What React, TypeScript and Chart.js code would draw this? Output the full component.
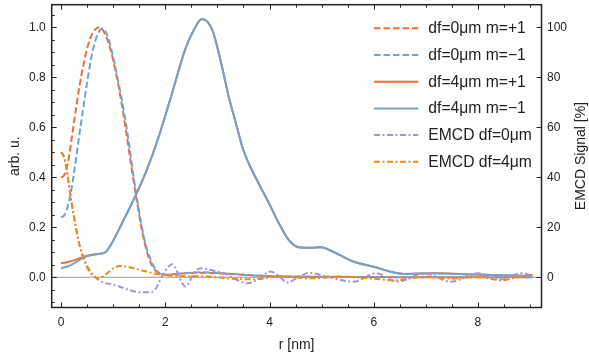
import { useEffect, useRef } from "react";
import { Chart, registerables } from "chart.js";

Chart.register(...registerables);

// ---------- data ----------
const R_DF0_P = [0, 0.05, 0.1, 0.15, 0.2, 0.27, 0.35, 0.45, 0.55, 0.65, 0.74, 0.85, 0.95, 1.05, 1.15, 1.25, 1.35, 1.45, 1.55, 1.65, 1.75, 1.85, 2.0, 2.3, 2.7, 3.1, 3.5, 4.0, 5.0, 6.0, 7.0, 8.0, 9.05];
const V_DF0_P = [0.40, 0.405, 0.43, 0.48, 0.55, 0.65, 0.76, 0.87, 0.95, 0.99, 1.0, 0.97, 0.91, 0.82, 0.71, 0.58, 0.44, 0.31, 0.19, 0.10, 0.045, 0.02, 0.01, 0.015, 0.018, 0.015, 0.01, 0.005, 0.002, 0.001, 0.0, 0.0, 0.0];

const R_DF0_M = [0, 0.05, 0.1, 0.17, 0.25, 0.33, 0.4, 0.5, 0.6, 0.7, 0.79, 0.9, 1.0, 1.1, 1.2, 1.3, 1.4, 1.5, 1.6, 1.7, 1.8, 1.9, 2.0, 2.3, 2.7, 3.1, 3.5, 4.0, 5.0, 6.0, 7.0, 8.0, 9.05];
const V_DF0_M = [0.24, 0.245, 0.265, 0.32, 0.42, 0.54, 0.64, 0.78, 0.90, 0.97, 0.995, 0.96, 0.88, 0.78, 0.67, 0.54, 0.39, 0.26, 0.15, 0.08, 0.035, 0.015, 0.01, 0.015, 0.02, 0.016, 0.01, 0.004, 0.002, 0.001, 0.0, 0.0, 0.0];

const R_DF4 = [0, 0.15, 0.3, 0.45, 0.6, 0.75, 0.85, 0.97, 1.17, 1.36, 1.62, 1.87, 2.13, 2.38, 2.55, 2.7, 2.9, 3.09, 3.22, 3.35, 3.48, 3.6, 3.79, 3.99, 4.18, 4.37, 4.56, 4.8, 4.98, 5.24, 5.62, 6.0, 6.33, 6.58, 7.16, 7.93, 9.02];
const V_DF4_P = [0.056, 0.062, 0.072, 0.083, 0.09, 0.094, 0.10, 0.135, 0.216, 0.296, 0.416, 0.56, 0.736, 0.91, 0.99, 1.033, 0.99, 0.84, 0.72, 0.62, 0.52, 0.456, 0.376, 0.296, 0.216, 0.149, 0.12, 0.118, 0.12, 0.10, 0.062, 0.042, 0.022, 0.013, 0.016, 0.011, 0.005];
const V_DF4_M = [0.036, 0.045, 0.062, 0.080, 0.089, 0.094, 0.10, 0.135, 0.216, 0.296, 0.416, 0.56, 0.736, 0.91, 0.99, 1.033, 0.99, 0.84, 0.72, 0.62, 0.52, 0.456, 0.376, 0.296, 0.216, 0.149, 0.12, 0.118, 0.12, 0.10, 0.062, 0.042, 0.022, 0.013, 0.016, 0.011, 0.005];

const R_EMCD0 = [0, 0.05, 0.1, 0.15, 0.2, 0.27, 0.33, 0.4, 0.5, 0.65, 0.8, 0.97, 1.13, 1.29, 1.52, 1.71, 1.81, 1.9, 1.94, 2.05, 2.13, 2.2, 2.26, 2.33, 2.38, 2.45, 2.51, 2.6, 2.7, 2.85, 3.12, 3.35, 3.57, 3.8, 4.02, 4.18, 4.34, 4.55, 4.76, 5.11, 5.62, 6.04, 6.46, 6.97, 7.48, 8.0, 8.44, 8.83, 9.02];
const V_EMCD0 = [50, 48.5, 44, 37, 30, 21.6, 15, 9.6, 4.5, 0.2, -2, -2.8, -3.8, -5, -6, -6, -4.8, -1.1, 0.5, 4, 5.2, 3.5, 0.3, -2.5, -3.7, -2.5, 0.2, 2.8, 3.6, 3, 1.6, -0.8, -2.4, -0.5, 2.3, 0.5, -2.1, 0, 1.8, 0.2, -1.8, 1.6, -1.8, 1.6, -1.8, 1.6, -0.8, 1.6, 0.8];

const R_EMCD4 = [0, 0.05, 0.1, 0.15, 0.2, 0.27, 0.33, 0.4, 0.5, 0.6, 0.72, 0.85, 1.0, 1.13, 1.35, 1.52, 1.84, 2.2, 2.8, 3.3, 3.7, 4.2, 4.8, 5.4, 6.0, 6.4, 7.0, 7.5, 8.0, 8.45, 8.8, 9.05];
const V_EMCD4 = [50, 48.5, 44, 37, 30, 21.6, 15, 9.6, 4, 0.8, -0.4, 1.0, 3.5, 4.5, 3.8, 2.9, 1.3, 0.5, 0.3, -0.6, -0.8, 0.3, -0.4, 0.2, -0.6, -1.2, 0.3, -0.5, 0.2, -1.2, 0.3, 1.0];

const X_TICKS = [0, 2, 4, 6, 8];
const Y_TICKS = [0, 0.2, 0.4, 0.6, 0.8, 1.0];
const Y2_TICKS = [0, 20, 40, 60, 80, 100];

const SERIES_LABELS = [
  "df=0\u03bcm m=+1",
  "df=0\u03bcm m=\u22121",
  "df=4\u03bcm m=+1",
  "df=4\u03bcm m=\u22121",
  "EMCD df=0\u03bcm",
  "EMCD df=4\u03bcm",
];

const X_TITLE = "r [nm]";
const Y_TITLE = "arb. u.";
const Y2_TITLE = "EMCD Signal [%]";

// ---------- styles ----------
const RED = "#EE6E38";
const BLUE = "#6EA4CF";
const PURPLE = "#AA90DF";
const ORANGE = "#F08A10";
const DASH = [6.5, 3];
const DASHDOT = [6, 2.5, 2, 2.5];
const FONT = '"Liberation Sans", Arial, sans-serif';

const zip = (xs: number[], ys: number[]) => xs.map((x, i) => ({ x, y: ys[i] }));

const STYLES = [
  { color: RED, dash: DASH },
  { color: BLUE, dash: DASH },
  { color: RED, dash: [] as number[] },
  { color: BLUE, dash: [] as number[] },
  { color: PURPLE, dash: DASHDOT },
  { color: ORANGE, dash: DASHDOT },
];

const zeroPad = (s: any) => {
  s.paddingTop = 0;
  s.paddingBottom = 0;
  s.paddingLeft = 0;
  s.paddingRight = 0;
};

const decorPlugin = {
  id: "decor",
  beforeDatasetsDraw(chart: any) {
    const { ctx, chartArea: a, scales } = chart;
    const y0 = scales.y.getPixelForValue(0);
    ctx.save();
    ctx.strokeStyle = "#999";
    ctx.lineWidth = 1.2;
    ctx.beginPath();
    ctx.moveTo(a.left, y0);
    ctx.lineTo(a.right, y0);
    ctx.stroke();
    ctx.restore();
  },
  afterDatasetsDraw(chart: any) {
    const { ctx, chartArea: a, scales } = chart;
    const sx = scales.x, sy = scales.y, sy2 = scales.y2;
    ctx.save();
    ctx.strokeStyle = "#222";
    ctx.lineWidth = 1;
    ctx.setLineDash([]);
    // x ticks (bottom and top, inward)
    for (let v = 0; v <= 9.01; v += 0.5) {
      const px = Math.round(sx.getPixelForValue(v)) + 0.5;
      const major = Math.abs(v / 2 - Math.round(v / 2)) < 1e-6;
      const len = major ? 5 : 3;
      ctx.beginPath();
      ctx.moveTo(px, a.bottom);
      ctx.lineTo(px, a.bottom - len);
      ctx.moveTo(px, a.top);
      ctx.lineTo(px, a.top + len);
      ctx.stroke();
    }
    // left ticks
    for (let i = -2; i <= 21; i++) {
      const v = i * 0.05;
      const py = Math.round(sy.getPixelForValue(v)) + 0.5;
      if (py < a.top + 1 || py > a.bottom - 1) continue;
      const major = i % 4 === 0;
      const len = major ? 5 : 3;
      ctx.beginPath();
      ctx.moveTo(a.left, py);
      ctx.lineTo(a.left + len, py);
      ctx.stroke();
    }
    // right ticks
    for (const v of Y2_TICKS) {
      const py = Math.round(sy2.getPixelForValue(v)) + 0.5;
      ctx.beginPath();
      ctx.moveTo(a.right, py);
      ctx.lineTo(a.right - 5, py);
      ctx.stroke();
    }
    // frame
    ctx.lineWidth = 1.5;
    ctx.strokeRect(a.left, a.top, a.right - a.left, a.bottom - a.top);

    // titles
    ctx.fillStyle = "#222";
    ctx.font = `14px ${FONT}`;
    ctx.textAlign = "center";
    ctx.textBaseline = "middle";
    const cy = (a.top + a.bottom) / 2;
    ctx.fillText(X_TITLE, (a.left + a.right) / 2, 345);
    ctx.save();
    ctx.translate(15, cy);
    ctx.rotate(-Math.PI / 2);
    ctx.fillText(Y_TITLE, 0, 0);
    ctx.restore();
    ctx.save();
    ctx.translate(581.5, cy);
    ctx.rotate(-Math.PI / 2);
    ctx.fillText(Y2_TITLE, 0, 0);
    ctx.restore();

    // legend
    ctx.font = `15.7px ${FONT}`;
    ctx.textAlign = "left";
    SERIES_LABELS.forEach((label, i) => {
      const y = 28.3 + i * 26.7;
      const st = STYLES[i];
      ctx.strokeStyle = st.color;
      ctx.lineWidth = 2;
      ctx.setLineDash(st.dash);
      ctx.beginPath();
      ctx.moveTo(374, y);
      ctx.lineTo(418.3, y);
      ctx.stroke();
      ctx.setLineDash([]);
      ctx.fillStyle = "#222";
      ctx.fillText(label, 428.3, y + 0.5);
    });
    ctx.restore();
  },
};

export default function App() {
  const ref = useRef<HTMLCanvasElement | null>(null);
  useEffect(() => {
    document.body.style.margin = "0";
    if (!ref.current) return;
    const series = [
      zip(R_DF0_P, V_DF0_P),
      zip(R_DF0_M, V_DF0_M),
      zip(R_DF4, V_DF4_P),
      zip(R_DF4, V_DF4_M),
      zip(R_EMCD0, V_EMCD0),
      zip(R_EMCD4, V_EMCD4),
    ];
    const axisIds = ["y", "y", "y", "y", "y2", "y2"];
    const chart = new Chart(ref.current, {
      type: "line",
      data: {
        datasets: series.map((data, i) => ({
          label: SERIES_LABELS[i],
          data,
          yAxisID: axisIds[i],
          borderColor: STYLES[i].color,
          backgroundColor: STYLES[i].color,
          borderDash: STYLES[i].dash,
          borderWidth: 2,
          pointRadius: 0,
          cubicInterpolationMode: "monotone" as const,
          fill: false,
          order: 6 - i,
        })),
      },
      options: {
        animation: false,
        responsive: false,
        maintainAspectRatio: false,
        layout: { padding: { top: 4.7, left: 0, right: 0, bottom: 0 } },
        plugins: { legend: { display: false }, tooltip: { enabled: false } },
        font: { family: FONT },
        scales: {
          x: {
            type: "linear",
            min: -0.18,
            max: 9.22,
            grid: { display: false, drawTicks: false },
            border: { display: false },
            afterBuildTicks: (s: any) => {
              s.ticks = X_TICKS.map((value) => ({ value }));
            },
            afterFit: (s: any) => {
              s.height = 48.5;
              zeroPad(s);
            },
            ticks: {
              padding: 8,
              color: "#222",
              font: { size: 12, family: FONT },
              maxRotation: 0,
              callback: (v: any) => String(v),
            },
          },
          y: {
            type: "linear",
            position: "left",
            min: -0.121,
            max: 1.09,
            grid: { display: false, drawTicks: false },
            border: { display: false },
            afterBuildTicks: (s: any) => {
              s.ticks = Y_TICKS.map((value) => ({ value }));
            },
            afterFit: (s: any) => {
              s.width = 51.7;
              zeroPad(s);
            },
            ticks: {
              padding: 6,
              color: "#222",
              font: { size: 12, family: FONT },
              callback: (v: any) => Number(v).toFixed(1),
            },
          },
          y2: {
            type: "linear",
            position: "right",
            min: -12.1,
            max: 109,
            grid: { display: false, drawTicks: false },
            border: { display: false },
            afterBuildTicks: (s: any) => {
              s.ticks = Y2_TICKS.map((value) => ({ value }));
            },
            afterFit: (s: any) => {
              s.width = 47.5;
              zeroPad(s);
            },
            ticks: {
              padding: 5.5,
              color: "#222",
              font: { size: 12, family: FONT },
              callback: (v: any) => String(v),
            },
          },
        },
      } as any,
      plugins: [decorPlugin],
    });
    return () => chart.destroy();
  }, []);
  return (
    <div style={{ width: 589, height: 356, position: "relative" }}>
      <canvas ref={ref} width={589} height={356} style={{ display: "block", width: 589, height: 356 }} />
    </div>
  );
}
